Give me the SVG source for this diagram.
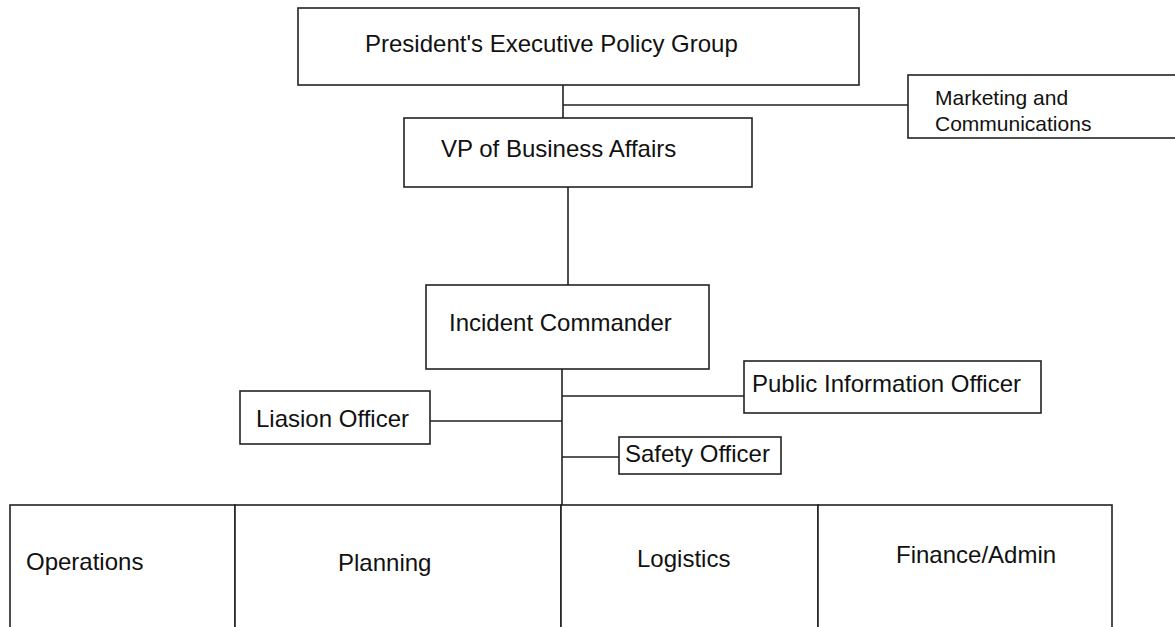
<svg xmlns="http://www.w3.org/2000/svg" width="1175" height="627" viewBox="0 0 1175 627">
<style>
.box{fill:#fff;stroke:#222;stroke-width:1.6}
.ln{stroke:#222;stroke-width:1.6;fill:none}
.t{font-family:"Liberation Sans",Arial,sans-serif;font-size:24px;fill:#111}
.s{font-family:"Liberation Sans",Arial,sans-serif;font-size:21px;fill:#111}
</style>
<rect width="1175" height="627" fill="#fff"/>
<g id="connectors">
<path class="ln" d="M563 85V118M563 105H908"/>
<path class="ln" d="M568 187V285"/>
<path class="ln" d="M562 369V505M562 396H744M430 421H562M562 457H619"/>
</g>
<g id="president">
<rect class="box" x="298" y="8" width="561" height="77"/>
<text class="t" x="365" y="52">President's Executive Policy Group</text>
</g>
<g id="marketing">
<rect class="box" x="908" y="75" width="270" height="63"/>
<text class="s" x="935" y="105">Marketing and</text>
<text class="s" x="935" y="131">Communications</text>
</g>
<g id="vp">
<rect class="box" x="404" y="118" width="348" height="69"/>
<text class="t" x="441" y="157">VP of Business Affairs</text>
</g>
<g id="incident-commander">
<rect class="box" x="426" y="285" width="283" height="84"/>
<text class="t" x="449" y="331">Incident Commander</text>
</g>
<g id="public-information-officer">
<rect class="box" x="744" y="361" width="297" height="52"/>
<text class="t" x="752" y="392">Public Information Officer</text>
</g>
<g id="liaison-officer">
<rect class="box" x="240" y="391" width="190" height="53"/>
<text class="t" x="256" y="427">Liasion Officer</text>
</g>
<g id="safety-officer">
<rect class="box" x="619" y="437" width="162" height="37"/>
<text class="t" x="625" y="462">Safety Officer</text>
</g>
<g id="operations">
<rect class="box" x="10" y="505" width="225" height="140"/>
<text class="t" x="26" y="570">Operations</text>
</g>
<g id="planning">
<rect class="box" x="235" y="505" width="326" height="140"/>
<text class="t" x="338" y="571">Planning</text>
</g>
<g id="logistics">
<rect class="box" x="561" y="505" width="257" height="140"/>
<text class="t" x="637" y="567">Logistics</text>
</g>
<g id="finance-admin">
<rect class="box" x="818" y="505" width="294" height="140"/>
<text class="t" x="896" y="563">Finance/Admin</text>
</g>
</svg>
